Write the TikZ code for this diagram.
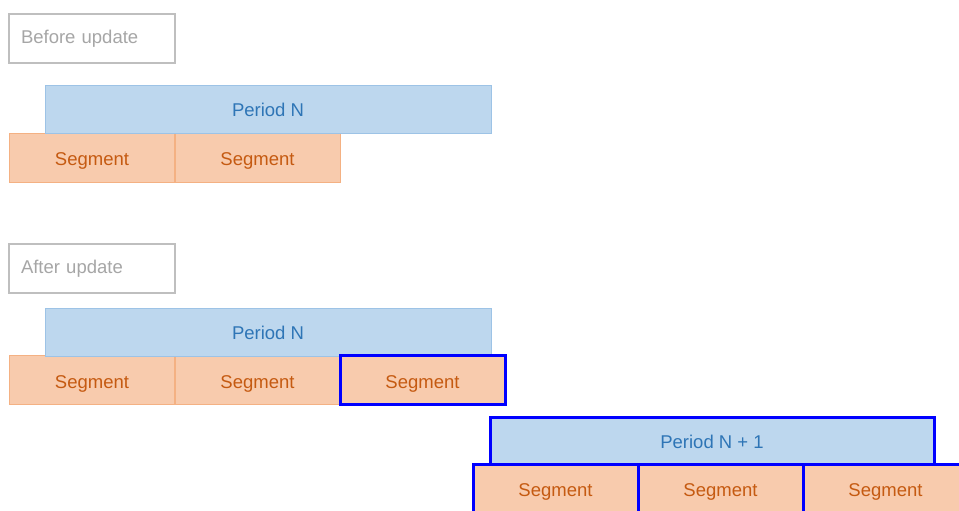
\documentclass[tikz,border=0pt]{standalone}
\usepackage{fontspec}
\setmainfont{Liberation Sans}
\definecolor{pfill}{HTML}{BDD7EE}
\definecolor{pline}{HTML}{9DC3E6}
\definecolor{ptext}{HTML}{2E75B6}
\definecolor{sfill}{HTML}{F8CBAD}
\definecolor{sline}{HTML}{F4B183}
\definecolor{stext}{HTML}{C55A11}
\definecolor{gline}{HTML}{BFBFBF}
\definecolor{gtext}{HTML}{A6A6A6}
\definecolor{hl}{HTML}{0000FF}
\tikzset{
  base/.style={rectangle, inner sep=0pt, font=\fontsize{18.5}{22}\selectfont},
  label box/.style={base, draw=gline, line width=1.6pt, fill=white, text=gtext,
    minimum height=49pt, text width=142pt, align=left, inner xsep=12pt},
  period/.style={base, draw=pline, line width=0.9pt, fill=pfill, text=ptext,
    minimum width=446pt, minimum height=48pt, text height=15.5pt, text depth=0pt},
  segment/.style={base, draw=sline, line width=0.9pt, fill=sfill, text=stext,
    minimum width=165pt, minimum height=49pt, text height=16pt, text depth=0pt},
  highlight/.style={draw=hl, line width=3pt}
}
\begin{document}
\begin{tikzpicture}[x=1pt,y=-1pt]
\useasboundingbox (0,0) rectangle (959,511);
\clip (0,0) rectangle (959,511);
% Before update
\node[label box] (before) at (92,38.5) {Before update};
\node[segment] (s1) at (92,157.5) {Segment};
\node[segment] (s2) at (257.5,157.5) {Segment};
\node[period] (p1) at (268,109) {Period N};
% After update
\node[label box] (after) at (92,268.5) {After update};
\node[segment] (a1) at (92,380) {Segment};
\node[segment] (a2) at (257.5,380) {Segment};
\node[period] (p2) at (268,332) {Period N};
\node[segment, highlight] (a3) at (422.5,380) {Segment};
% Period N + 1
\node[period, highlight, minimum width=444pt, minimum height=47pt] (p3) at (712,440.5) {Period N + 1};
\node[segment, highlight] (b1) at (555.5,488.5) {Segment};
\node[segment, highlight] (b2) at (720.5,488.5) {Segment};
\node[segment, highlight] (b3) at (885.5,488.5) {Segment};
\end{tikzpicture}
\end{document}
